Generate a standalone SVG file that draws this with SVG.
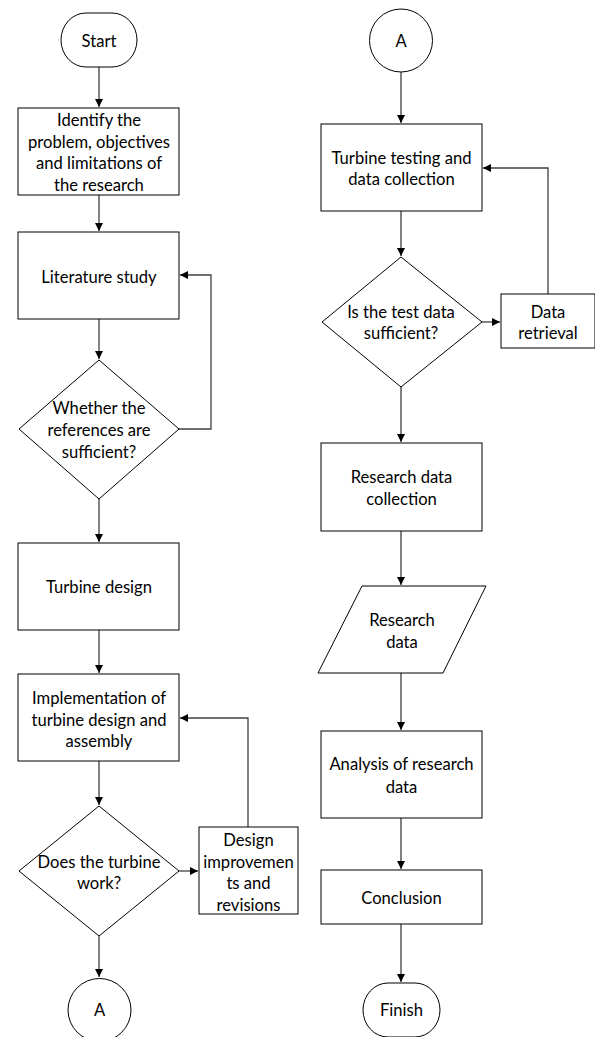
<svg xmlns="http://www.w3.org/2000/svg" width="595" height="1037" viewBox="0 0 595 1037">
<defs>
<marker id="arr" markerWidth="8" markerHeight="8" refX="8" refY="4" orient="auto" markerUnits="userSpaceOnUse">
<path d="M0,0 L8,4 L0,8 z" fill="#000"/>
</marker>
<style>
.s{fill:#fff;stroke:#000;stroke-width:1}
.c{fill:none;stroke:#404040;stroke-width:1.3;marker-end:url(#arr)}
text{font-family:Lato,"Liberation Sans",sans-serif;font-size:16.6px;fill:#000;text-anchor:middle;dominant-baseline:central}
</style>
</defs>
<rect width="595" height="1037" fill="#fff"/>
<g id="connectors">
<path class="c" d="M99,67 V107"/>
<path class="c" d="M99,195 V231"/>
<path class="c" d="M99,319 V359"/>
<path class="c" d="M179,429 H211 V275 H180"/>
<path class="c" d="M99,499 V542"/>
<path class="c" d="M99,630 V673"/>
<path class="c" d="M99,761 V805"/>
<path class="c" d="M179,871 H198"/>
<path class="c" d="M248,827 V718 H180"/>
<path class="c" d="M99,936 V977"/>
<path class="c" d="M401,72 V123"/>
<path class="c" d="M401,211 V256"/>
<path class="c" d="M482,322 H500"/>
<path class="c" d="M548,294 V168 H483"/>
<path class="c" d="M401,387 V442"/>
<path class="c" d="M401,531 V585"/>
<path class="c" d="M401,673 V730"/>
<path class="c" d="M401,818 V869"/>
<path class="c" d="M401,924 V982"/>
</g>
<g id="start">
<rect class="s" x="61" y="13" width="76" height="54" rx="25" ry="27"/>
<text x="99" y="41">Start</text>
</g>
<g id="identify">
<rect class="s" x="18" y="108" width="161" height="87"/>
<text x="99" y="120">Identify the</text>
<text x="99" y="141.5">problem, objectives</text>
<text x="99" y="163">and limitations of</text>
<text x="99" y="184.5">the research</text>
</g>
<g id="literature">
<rect class="s" x="18" y="232" width="161" height="87"/>
<text x="99" y="277">Literature study</text>
</g>
<g id="refs-decision">
<polygon class="s" points="99,360 179,429 99,499 19,429"/>
<text x="99" y="408">Whether the</text>
<text x="99" y="430">references are</text>
<text x="99" y="452">sufficient?</text>
</g>
<g id="turbine-design">
<rect class="s" x="18" y="543" width="161" height="87"/>
<text x="99" y="587">Turbine design</text>
</g>
<g id="implementation">
<rect class="s" x="18" y="674" width="161" height="87"/>
<text x="99" y="698">Implementation of</text>
<text x="99" y="719.5">turbine design and</text>
<text x="99" y="741">assembly</text>
</g>
<g id="works-decision">
<polygon class="s" points="99,806 179,871 99,936 19,871"/>
<text x="99" y="862">Does the turbine</text>
<text x="99" y="883">work?</text>
</g>
<g id="design-improvements">
<rect class="s" x="199" y="827" width="99" height="87"/>
<text x="248.5" y="840">Design</text>
<text x="248.5" y="861.5">improvemen</text>
<text x="248.5" y="883">ts and</text>
<text x="248.5" y="904.5">revisions</text>
</g>
<g id="connector-a-out">
<circle class="s" cx="99.5" cy="1010" r="31.5"/>
<text x="99.5" y="1010">A</text>
</g>
<g id="connector-a-in">
<circle class="s" cx="401" cy="40.5" r="31.5"/>
<text x="401" y="41">A</text>
</g>
<g id="testing">
<rect class="s" x="321" y="124" width="161" height="87"/>
<text x="401.5" y="158">Turbine testing and</text>
<text x="401.5" y="179">data collection</text>
</g>
<g id="test-decision">
<polygon class="s" points="401,257 482,322 401,387 322,322"/>
<text x="401" y="312">Is the test data</text>
<text x="401" y="333">sufficient?</text>
</g>
<g id="data-retrieval">
<rect class="s" x="501" y="294" width="94" height="54"/>
<text x="548" y="312">Data</text>
<text x="548" y="333">retrieval</text>
</g>
<g id="research-collection">
<rect class="s" x="321" y="443" width="161" height="88"/>
<text x="401.5" y="477">Research data</text>
<text x="401.5" y="498.5">collection</text>
</g>
<g id="research-data">
<polygon class="s" points="362,586 486,586 443,673 318,673"/>
<text x="402" y="620">Research</text>
<text x="402" y="641.5">data</text>
</g>
<g id="analysis">
<rect class="s" x="321" y="731" width="161" height="87"/>
<text x="401.5" y="764">Analysis of research</text>
<text x="401.5" y="786.5">data</text>
</g>
<g id="conclusion">
<rect class="s" x="321" y="870" width="161" height="54"/>
<text x="401.5" y="898">Conclusion</text>
</g>
<g id="finish">
<rect class="s" x="363" y="983" width="77" height="54" rx="25" ry="27"/>
<text x="401.5" y="1010">Finish</text>
</g>
</svg>
